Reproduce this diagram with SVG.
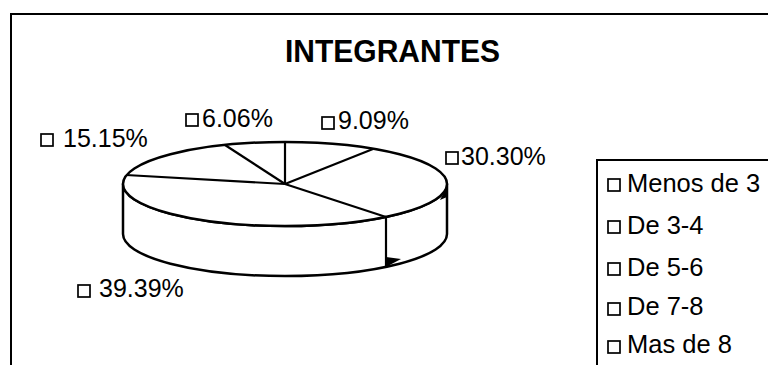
<svg xmlns="http://www.w3.org/2000/svg" width="768" height="365" viewBox="0 0 768 365">
<style>
.t{font-family:"Liberation Sans",Arial,sans-serif;fill:#000}
.lbl{font-size:25px}
.leg{font-size:25.5px}
.title{font-size:31px;font-weight:bold}
.box{fill:#fff;stroke:#000;stroke-width:1.7}
.pie{fill:#fff;stroke:#000;stroke-width:2.5;stroke-linejoin:round}
.sl{stroke:#000;stroke-width:2.2;fill:none}
.frame{fill:none;stroke:#000;stroke-width:2}
</style>
<rect width="768" height="365" fill="#fff"/>
<g id="frame">
<path class="frame" d="M11,366 V14 H768"/>
</g>
<g id="title">
<text class="t title" x="392.5" y="62" text-anchor="middle" textLength="215" lengthAdjust="spacingAndGlyphs">INTEGRANTES</text>
</g>
<g id="pie">
<path class="pie" d="M123,184 V234 A162,42 0 0 0 447,234 V184 A162,42 0 0 1 123,184 Z"/>
<ellipse class="pie" cx="285" cy="184" rx="162" ry="42"/>
<path d="M386,257 L401,259 L386,267 Z" fill="#000"/>
<path d="M440,200 L447,186 L447,197 Z" fill="#000"/>
</g>
<g id="connectors">
<line class="sl" x1="285" y1="184" x2="285" y2="142"/>
<line class="sl" x1="285" y1="184" x2="373" y2="149"/>
<line class="sl" x1="285" y1="184" x2="386" y2="217"/>
<line class="sl" x1="285" y1="184" x2="126" y2="175"/>
<line class="sl" x1="285" y1="184" x2="225" y2="145"/>
<line class="sl" x1="386" y1="217" x2="386" y2="267"/>
</g>
<g id="label-1515">
<rect class="box" x="41" y="134" width="12" height="12"/>
<text class="t lbl" x="63" y="147">15.15%</text>
</g>
<g id="label-606">
<rect class="box" x="186" y="114" width="12" height="12"/>
<text class="t lbl" x="202" y="127">6.06%</text>
</g>
<g id="label-909">
<rect class="box" x="322" y="117" width="12" height="12"/>
<text class="t lbl" x="338" y="129">9.09%</text>
</g>
<g id="label-3030">
<rect class="box" x="446" y="152" width="12" height="12"/>
<text class="t lbl" x="461" y="165">30.30%</text>
</g>
<g id="label-3939">
<rect class="box" x="78" y="285" width="12" height="12"/>
<text class="t lbl" x="99" y="297">39.39%</text>
</g>
<g id="legend">
<path class="frame" d="M597,366 V160 H768"/>
<rect class="box" x="608" y="179" width="12" height="12"/>
<text class="t leg" x="627" y="192">Menos de 3</text>
<rect class="box" x="608" y="221" width="12" height="12"/>
<text class="t leg" x="627" y="234">De 3-4</text>
<rect class="box" x="608" y="263" width="12" height="12"/>
<text class="t leg" x="627" y="276">De 5-6</text>
<rect class="box" x="608" y="303" width="12" height="12"/>
<text class="t leg" x="627" y="315">De 7-8</text>
<rect class="box" x="608" y="341" width="12" height="12"/>
<text class="t leg" x="627" y="353">Mas de 8</text>
</g>
</svg>
